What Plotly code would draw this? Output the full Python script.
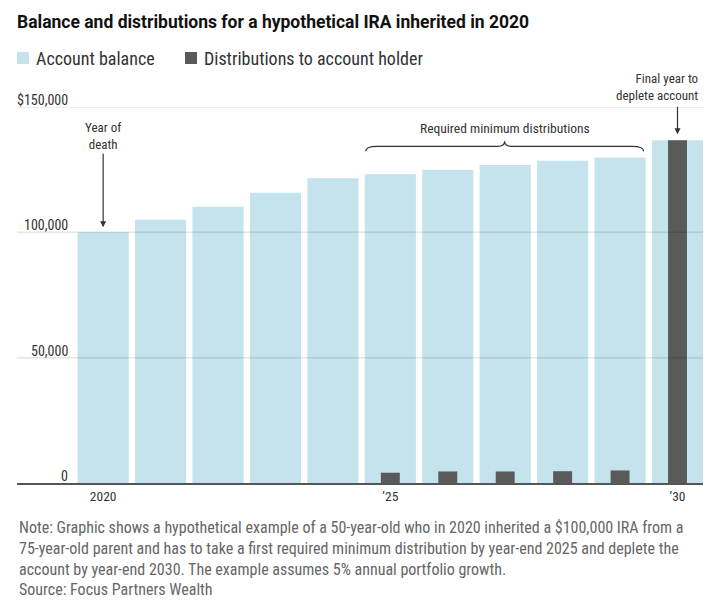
import plotly.graph_objects as go

# Values
years = [2020, 2021, 2022, 2023, 2024, 2025, 2026, 2027, 2028, 2029, 2030]
balance = [100000, 105000, 110250, 115760, 121550, 123200, 125000, 126900, 128600, 129900, 136700]
distributions = [0, 0, 0, 0, 0, 4100, 4600, 4600, 4700, 5000, 136700]

y_ticks = [0, 50000, 100000, 150000]
y_labels = ["0", "50,000", "100,000", "$150,000"]
x_ticks = [2020, 2025, 2030]
x_labels = ["2020", "\u201925", "\u201930"]

series_names = ["Account balance", "Distributions to account holder"]
note_lines = [
    "Note: Graphic shows a hypothetical example of a 50-year-old who in 2020 inherited a $100,000 IRA from a",
    "75-year-old parent and has to take a first required minimum distribution by year-end 2025 and deplete the",
    "account by year-end 2030. The example assumes 5% annual portfolio growth.",
    "Source: Focus Partners Wealth",
]

NARROW = "Roboto Condensed, Liberation Sans Narrow, sans-serif"
light_blue = "#c5e3ed"
dark_gray = "#5a5a5a"

# plot area is 17..703 px wide and 107..483 px tall
def px(x):
    return (x - 17) / 686

def py(y):
    return (483 - y) / 376

fig = go.Figure()
fig.add_trace(go.Bar(x=years, y=balance, name=series_names[0],
                     marker=dict(color=light_blue, line=dict(width=0)), width=0.89))
fig.add_trace(go.Bar(x=years, y=distributions, name=series_names[1],
                     marker=dict(color=dark_gray, line=dict(width=0)), width=0.33))

# gridlines drawn over the bars, like the original
for v in y_ticks[1:]:
    fig.add_shape(type="line", xref="paper", x0=0, x1=1, yref="y", y0=v, y1=v,
                  line=dict(color="rgba(0,0,0,0.1)", width=1.5), layer="above")

# y labels, right aligned and sitting on the gridlines
for v, t in zip(y_ticks, y_labels):
    fig.add_annotation(x=px(70), xref="paper", xanchor="right", y=v, yref="y",
                       yanchor="bottom", yshift=-3, text=t, showarrow=False,
                       font=dict(size=14, color="#333"))

# legend, drawn by hand so the layout is not pushed around
for left, name, col in [(17, series_names[0], light_blue), (185, series_names[1], dark_gray)]:
    fig.add_shape(type="rect", xref="paper", yref="paper",
                  x0=px(left), x1=px(left + 12), y0=py(64), y1=py(52),
                  fillcolor=col, line=dict(width=0))
    fig.add_annotation(x=px(left + 17), xref="paper", xanchor="left",
                       y=py(58), yref="paper", yanchor="middle", text=name,
                       showarrow=False, font=dict(size=18, color="#333"))

# year of death
fig.add_annotation(x=years[0], y=balance[0], text="Year of<br>death", ax=0, ay=-96,
                   showarrow=True, arrowhead=2, arrowsize=1, arrowwidth=1.2,
                   arrowcolor="#333", standoff=5, font=dict(size=13, color="#333"))

# final year
fig.add_annotation(x=years[-1], y=balance[-1], text="", ax=0, ay=-35,
                   showarrow=True, arrowhead=2, arrowsize=1, arrowwidth=1.2,
                   arrowcolor="#333", standoff=6)
fig.add_annotation(x=px(700), xref="paper", xanchor="right", y=py(86.5), yref="paper",
                   yanchor="middle", align="right", text="Final year to<br>deplete account",
                   showarrow=False, font=dict(size=13, color="#333"))

# brace over the RMD years
x0 = years[5] - 0.43
x1 = years[9] + 0.41
xc = (x0 + x1) / 2
yb, ya, yp = 132300, 134300, 136300
brace = (f"M{x0},{yb} Q{x0},{ya} {x0 + 0.2},{ya} L{xc - 0.12},{ya} "
         f"Q{xc},{ya} {xc},{yp} Q{xc},{ya} {xc + 0.12},{ya} "
         f"L{x1 - 0.2},{ya} Q{x1},{ya} {x1},{yb}")
fig.add_shape(type="path", path=brace, xref="x", yref="y",
              line=dict(color="#333", width=1.2), layer="above")
fig.add_annotation(x=xc, y=141700, text="Required minimum distributions",
                   showarrow=False, yanchor="middle", font=dict(size=13.5, color="#333"))

# footnote
fig.add_annotation(x=0, xref="paper", xanchor="left", y=py(516), yref="paper",
                   yanchor="top", align="left", text="<br>".join(note_lines),
                   showarrow=False, font=dict(size=16, color="#666"))

fig.update_layout(
    width=716, height=608,
    margin=dict(l=17, r=13, t=107, b=125),
    paper_bgcolor="white", plot_bgcolor="white",
    barmode="overlay",
    showlegend=False,
    font=dict(family=NARROW, color="#333"),
    title=dict(text="<b>Balance and distributions for a hypothetical IRA inherited in 2020</b>",
               x=17 / 716, xanchor="left", xref="container",
               y=1 - 22 / 608, yanchor="middle",
               font=dict(family="Roboto, sans-serif", size=17.5, color="#111")),
    xaxis=dict(range=[2018.5, 2030.444], tickvals=x_ticks, ticktext=x_labels,
               showgrid=False, zeroline=False, showline=True, linecolor="#555",
               linewidth=1.5, ticks="", tickfont=dict(size=13.5, color="#333"),
               fixedrange=True),
    yaxis=dict(range=[0, 150000], showgrid=False, zeroline=False,
               showticklabels=False, fixedrange=True),
)

fig.write_html("out.html", config={"displayModeBar": False},
               post_script="document.body.style.margin='0';")
